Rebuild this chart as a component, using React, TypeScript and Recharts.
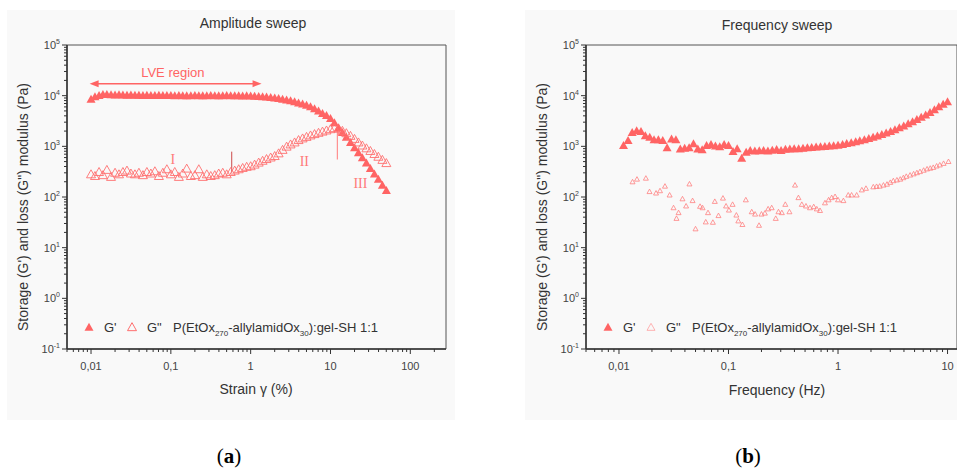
import React from 'react';
import { ScatterChart, Scatter, XAxis, YAxis, ReferenceArea, ReferenceLine, ReferenceDot } from 'recharts';

// ---------- Data: amplitude sweep ----------
const STRAIN = [
  0.01, 0.0112, 0.0126, 0.0141, 0.0158, 0.0178, 0.02, 0.0224, 0.0251, 0.0282, 0.0316, 0.0355, 0.0398, 0.0447, 0.0501, 0.0562, 0.0631, 0.0708, 0.0794, 0.0891,
  0.1, 0.112, 0.126, 0.141, 0.158, 0.178, 0.2, 0.224, 0.251, 0.282, 0.316, 0.355, 0.398, 0.447, 0.501, 0.562, 0.631, 0.708, 0.794, 0.891,
  1, 1.12, 1.26, 1.41, 1.58, 1.78, 2, 2.24, 2.51, 2.82, 3.16, 3.55, 3.98, 4.47, 5.01, 5.62, 6.31, 7.08, 7.94, 8.91,
  10, 11.2, 12.6, 14.1, 15.8, 17.8, 20, 22.4, 25.1, 28.2, 31.6, 35.5, 39.8, 44.7, 50.1,
];
const GP_AMP = [
  8200, 9200, 9700, 10200, 10100, 10000, 9900, 10000, 9900, 9800, 9900, 9800, 9800, 9700, 9800, 9700, 9700, 9800, 9700, 9700,
  9700, 9600, 9700, 9600, 9600, 9600, 9700, 9600, 9600, 9600, 9700, 9600, 9600, 9600, 9700, 9600, 9600, 9600, 9500, 9600,
  9500, 9400, 9300, 9200, 9100, 8900, 8700, 8500, 8200, 7900, 7600, 7300, 6900, 6600, 6200, 5800, 5300, 4800, 4300, 3900,
  3400, 2800, 2250, 1800, 1450, 1150, 900, 720, 570, 450, 350, 275, 215, 165, 130,
];
const GPP_AMP = [
  270, 250, 300, 260, 330, 240, 290, 270, 300, 320, 280, 270, 290, 260, 300, 280, 310, 250, 290, 340,
  270, 300, 240, 280, 350, 250, 260, 340, 240, 270, 250, 260, 280, 290, 270, 300, 320, 340, 360, 380,
  390, 420, 460, 500, 540, 580, 620, 700, 820, 950, 1050, 1150, 1280, 1380, 1480, 1580, 1680, 1780, 1880, 1980,
  2100, 2200, 2150, 1950, 1750, 1550, 1350, 1150, 1000, 880, 780, 680, 600, 520, 450,
];

// ---------- Data: frequency sweep ----------
const FREQ = [
  0.011, 0.0121, 0.0132, 0.0145, 0.0159, 0.0174, 0.0191, 0.0209, 0.0229, 0.0251, 0.0275, 0.0302, 0.0331, 0.0363, 0.0398, 0.0437, 0.0479, 0.0525, 0.0575, 0.0631, 0.0692, 0.0759, 0.0832, 0.0912,
  0.1, 0.11, 0.12, 0.132, 0.145, 0.158, 0.174, 0.191, 0.209, 0.229, 0.251, 0.275, 0.302, 0.331, 0.363, 0.398, 0.437, 0.479, 0.525, 0.575, 0.631, 0.692, 0.759, 0.832, 0.912,
  1, 1.1, 1.2, 1.32, 1.45, 1.58, 1.74, 1.91, 2.09, 2.29, 2.51, 2.75, 3.02, 3.31, 3.63, 3.98, 4.37, 4.79, 5.25, 5.75, 6.31, 6.92, 7.59, 8.32, 9.12, 10,
];
const GP_FREQ = [
  1000, 1260, 1800, 1950, 1900, 1550, 1450, 1300, 1300, 1250, 900, 1350, 1300, 850, 880, 900, 1080, 850, 820, 1000, 1050, 980, 950, 1050,
  1000, 760, 860, 560, 740, 800, 780, 790, 800, 780, 810, 830, 800, 840, 850, 860, 860, 880, 900, 910, 930, 950, 960, 980, 990,
  1010, 1050, 1090, 1130, 1180, 1240, 1300, 1370, 1450, 1540, 1640, 1760, 1900, 2050, 2230, 2430, 2700, 2950, 3250, 3600, 4000, 4500, 5100, 5800, 6500, 7300,
];
const FREQ2 = [
  0.0133, 0.0146, 0.0176, 0.019, 0.0218, 0.0237, 0.0263, 0.029, 0.0315, 0.0335, 0.035, 0.038, 0.041, 0.044, 0.047, 0.05, 0.055, 0.058, 0.062, 0.065,
  0.072, 0.075, 0.081, 0.089, 0.095, 0.101, 0.109, 0.118, 0.123, 0.134, 0.144, 0.163, 0.175, 0.19, 0.2, 0.215, 0.23, 0.248, 0.27, 0.286,
  0.307, 0.33, 0.36, 0.405, 0.435, 0.467, 0.51, 0.555, 0.6, 0.64, 0.685, 0.76, 0.82, 0.875, 0.94, 1.0, 1.12, 1.24, 1.33, 1.48,
  1.65, 1.8, 2.1, 2.25, 2.4, 2.6, 2.8, 3.0, 3.2, 3.45, 3.7, 3.95, 4.2, 4.55, 4.9, 5.25, 5.6, 6.05, 6.5, 6.95, 7.4, 7.95, 8.5, 9.2, 10.2,
];
const GPP_FREQ = [
  195, 220, 230, 125, 117, 130, 160, 107, 60, 37, 48, 90, 65, 177, 83, 23, 64, 60, 31.5, 48,
  31, 80, 42, 93, 65, 54, 70, 43, 33, 28, 86, 50, 45, 27, 45, 47, 57, 60, 37, 50,
  48, 70, 50, 168, 95, 70, 65, 60, 63, 57, 53, 75, 86, 95, 100, 86, 83, 107, 107, 107,
  135, 145, 155, 158, 160, 168, 175, 190, 205, 212, 220, 235, 250, 265, 280, 295, 310, 330, 350, 362, 375, 400, 420, 450, 490,
];

// ---------- Tick labels ----------
const X_LABELS: Record<string, string> = { '0.01': '0,01', '0.1': '0,1', '1': '1', '10': '10', '100': '100' };
const Y_MAJOR = [0.1, 1, 10, 100, 1000, 10000, 100000];
const Y_EXP = ['-1', '0', '1', '2', '3', '4', '5'];

const RED = '#ff6464';
const AXIS = '#333';
const SANS = 'Liberation Sans, Arial, sans-serif';

function minorTicks(decades: number[], lo: number, hi: number) {
  const out: number[] = [];
  decades.forEach((d) => {
    for (let m = 1; m < 10; m++) {
      const v = +(d * m).toPrecision(3);
      if (v >= lo && v <= hi) out.push(v);
    }
  });
  return out;
}
const X_TICKS_AMP = minorTicks([0.001, 0.01, 0.1, 1, 10, 100], 0.005, 280);
const X_TICKS_FREQ = minorTicks([0.001, 0.01, 0.1, 1, 10], 0.005, 12);
const Y_TICKS = minorTicks([0.1, 1, 10, 100, 1000, 10000, 100000], 0.1, 100000);

const isMajor = (v: number) => Math.abs(Math.log10(v) - Math.round(Math.log10(v))) < 1e-6;

const XTick = (props: any) => {
  const { x, y, payload } = props;
  const v = payload.value;
  const major = isMajor(v);
  const key = String(+v.toPrecision(3));
  return (
    <g>
      <line x1={x} x2={x} y1={y} y2={y + (major ? 5 : 3)} stroke={AXIS} strokeWidth={1} />
      {major && X_LABELS[key] && (
        <text x={x} y={y + 21} textAnchor="middle" fontSize={11} fill="#444" fontFamily={SANS}>
          {X_LABELS[key]}
        </text>
      )}
    </g>
  );
};

const YTick = (props: any) => {
  const { x, y, payload } = props;
  const v = payload.value;
  const major = isMajor(v);
  const idx = Y_MAJOR.findIndex((m) => Math.abs(Math.log10(m) - Math.log10(v)) < 1e-6);
  return (
    <g>
      <line x1={x} x2={x - (major ? 5 : 3)} y1={y} y2={y} stroke={AXIS} strokeWidth={1} />
      {major && idx >= 0 && (
        <text x={x - 7} y={y + 4} textAnchor="end" fontSize={11} fill="#444" fontFamily={SANS}>
          10<tspan dy={-5} fontSize={7}>{Y_EXP[idx]}</tspan>
        </text>
      )}
    </g>
  );
};

const triPath = (cx: number, cy: number, w: number, h: number) =>
  `M${cx},${cy - (h * 2) / 3} L${cx + w / 2},${cy + h / 3} L${cx - w / 2},${cy + h / 3} Z`;

const filledShape = (w: number, h: number, color: string) => (p: any) =>
  <path d={triPath(p.cx, p.cy, w, h)} fill={color} stroke="none" />;
const openShape = (w: number, h: number, color: string, sw: number) => (p: any) =>
  <path d={triPath(p.cx, p.cy, w, h)} fill="none" stroke={color} strokeWidth={sw} />;

const ArrowShape = (p: any) => {
  const { x1, y1, x2 } = p;
  const y = y1;
  return (
    <g>
      <line x1={x1 + 4} x2={x2 - 4} y1={y} y2={y} stroke={RED} strokeWidth={1.5} />
      <path d={`M${x1},${y} L${x1 + 9},${y - 3.5} L${x1 + 9},${y + 3.5} Z`} fill={RED} />
      <path d={`M${x2},${y} L${x2 - 9},${y - 3.5} L${x2 - 9},${y + 3.5} Z`} fill={RED} />
    </g>
  );
};

const textShape = (t: string, size: number, color: string, family: string) => (p: any) =>
  (
    <text x={p.cx} y={p.cy} textAnchor="middle" dominantBaseline="central" fontSize={size} fill={color} fontFamily={family}>
      {t}
    </text>
  );

const LegendBox = ({ left, top, openW, openH, openSW, openColor }: any) => (
  <svg width={330} height={22} style={{ position: 'absolute', left, top, overflow: 'visible' }}>
    <path d={triPath(14, 12, 9, 8)} fill={RED} />
    <text x={29} y={16} fontSize={13} fill="#333" fontFamily={SANS}>G'</text>
    <path d={triPath(57, 12, openW, openH)} fill="none" stroke={openColor} strokeWidth={openSW} />
    <text x={72} y={16} fontSize={13} fill="#333" fontFamily={SANS}>G"</text>
    <text x={98} y={16} fontSize={13} fill="#333" fontFamily={SANS}>
      P(EtOx<tspan fontSize={8} dy={4}>270</tspan><tspan dy={-4}>-allylamidOx</tspan><tspan fontSize={8} dy={4}>30</tspan><tspan dy={-4}>):gel-SH 1:1</tspan>
    </text>
  </svg>
);

const abs = (left: number, top: number, extra: React.CSSProperties = {}): React.CSSProperties => ({
  position: 'absolute',
  left,
  top,
  transform: 'translate(-50%, -50%)',
  whiteSpace: 'nowrap',
  fontFamily: SANS,
  color: '#333',
  ...extra,
});

const xAxisProps = {
  type: 'number' as const,
  dataKey: 'x',
  scale: 'log' as const,
  allowDataOverflow: true,
  interval: 0 as const,
  tickLine: false,
  tickSize: 0,
  tickMargin: 0,
  tick: XTick,
  height: 30,
  axisLine: { stroke: AXIS, strokeWidth: 1.5 },
};
const yAxisProps = {
  type: 'number' as const,
  dataKey: 'y',
  scale: 'log' as const,
  domain: [0.1, 100000],
  allowDataOverflow: true,
  ticks: Y_TICKS,
  interval: 0 as const,
  tickLine: false,
  tickSize: 0,
  tickMargin: 0,
  tick: YTick,
  width: 40,
  axisLine: { stroke: AXIS, strokeWidth: 1.5 },
};

export default function App() {
  const ampGp = STRAIN.map((x, i) => ({ x, y: GP_AMP[i] }));
  const ampGpp = STRAIN.map((x, i) => ({ x, y: GPP_AMP[i] }));
  const frGp = FREQ.map((x, i) => ({ x, y: GP_FREQ[i] }));
  const frGpp = FREQ2.map((x, i) => ({ x, y: GPP_FREQ[i] }));

  return (
    <div style={{ position: 'absolute', left: 0, top: 0, width: 957, height: 469, background: '#fff', overflow: 'hidden' }}>
      <div style={{ position: 'absolute', left: 7, top: 10, width: 448, height: 410, background: '#f9f9f9' }} />
      <div style={{ position: 'absolute', left: 525, top: 10, width: 432, height: 410, background: '#f9f9f9' }} />

      {/* Left panel */}
      <div style={{ position: 'absolute', left: 0, top: 0 }}>
        <ScatterChart width={460} height={420} margin={{ top: 45, right: 14, bottom: 41, left: 27 }}>
          <XAxis {...xAxisProps} domain={[0.005, 280]} ticks={X_TICKS_AMP} />
          <YAxis {...yAxisProps} />
          <ReferenceArea x1={0.005} x2={280} y1={0.1} y2={100000} fill="none" stroke="#555" strokeWidth={1} ifOverflow="visible" />
          <Scatter data={ampGp} isAnimationActive={false} shape={filledShape(9, 8, RED)} />
          <Scatter data={ampGpp} isAnimationActive={false} shape={openShape(9, 8, '#ff6f6f', 0.9)} />
          <ReferenceLine segment={[{ x: 0.0096, y: 17250 }, { x: 1.37, y: 17250 }]} shape={ArrowShape} ifOverflow="visible" />
          <ReferenceDot x={0.106} y={28400} r={0} ifOverflow="visible" shape={textShape('LVE region', 13, RED, SANS)} />
          <ReferenceLine segment={[{ x: 0.579, y: 303 }, { x: 0.579, y: 785 }]} stroke="#cc4a4a" strokeWidth={1} ifOverflow="visible" />
          <ReferenceLine segment={[{ x: 12.2, y: 547 }, { x: 12.2, y: 2300 }]} stroke="#ff9090" strokeWidth={1.2} ifOverflow="visible" />
          <ReferenceDot x={0.106} y={550} r={0} ifOverflow="visible" shape={textShape('I', 14, '#ff7a7a', 'Liberation Serif, serif')} />
          <ReferenceDot x={4.7} y={500} r={0} ifOverflow="visible" shape={textShape('II', 14, '#ff7a7a', 'Liberation Serif, serif')} />
          <ReferenceDot x={23.7} y={182} r={0} ifOverflow="visible" shape={textShape('III', 14, '#ff7a7a', 'Liberation Serif, serif')} />
        </ScatterChart>
      </div>

      {/* Right panel */}
      <div style={{ position: 'absolute', left: 480, top: 0 }}>
        <ScatterChart width={477} height={420} margin={{ top: 45, right: 0, bottom: 41, left: 66 }}>
          <XAxis {...xAxisProps} domain={[0.005, 12.2]} ticks={X_TICKS_FREQ} />
          <YAxis {...yAxisProps} />
          <ReferenceArea x1={0.005} x2={12.2} y1={0.1} y2={100000} fill="none" stroke="#555" strokeWidth={1} ifOverflow="visible" />
          <Scatter data={frGp} isAnimationActive={false} shape={filledShape(9, 8, RED)} />
          <Scatter data={frGpp} isAnimationActive={false} shape={openShape(5, 4.5, '#ff8080', 0.8)} />
        </ScatterChart>
      </div>

      <LegendBox left={75} top={316} openW={9} openH={8} openSW={1} openColor="#ff6f6f" />
      <LegendBox left={594} top={316} openW={8} openH={7} openSW={0.8} openColor="#ffa0a0" />

      {/* Titles and axis labels */}
      <div style={abs(253, 23, { fontSize: 14 })}>Amplitude sweep</div>
      <div style={abs(777, 25, { fontSize: 14 })}>Frequency sweep</div>
      <div style={abs(23, 207, { fontSize: 14, transform: 'translate(-50%, -50%) rotate(-90deg)' })}>Storage (G') and loss (G") modulus (Pa)</div>
      <div style={abs(542, 207, { fontSize: 14, transform: 'translate(-50%, -50%) rotate(-90deg)' })}>Storage (G') and loss (G") modulus (Pa)</div>
      <div style={abs(256, 389, { fontSize: 14 })}>Strain γ (%)</div>
      <div style={abs(777, 390, { fontSize: 14 })}>Frequency (Hz)</div>
      <div style={abs(229, 456, { fontSize: 21, fontFamily: 'Liberation Serif, serif', color: '#000' })}>
        (<b>a</b>)
      </div>
      <div style={abs(748, 456, { fontSize: 21, fontFamily: 'Liberation Serif, serif', color: '#000' })}>
        (<b>b</b>)
      </div>
    </div>
  );
}
